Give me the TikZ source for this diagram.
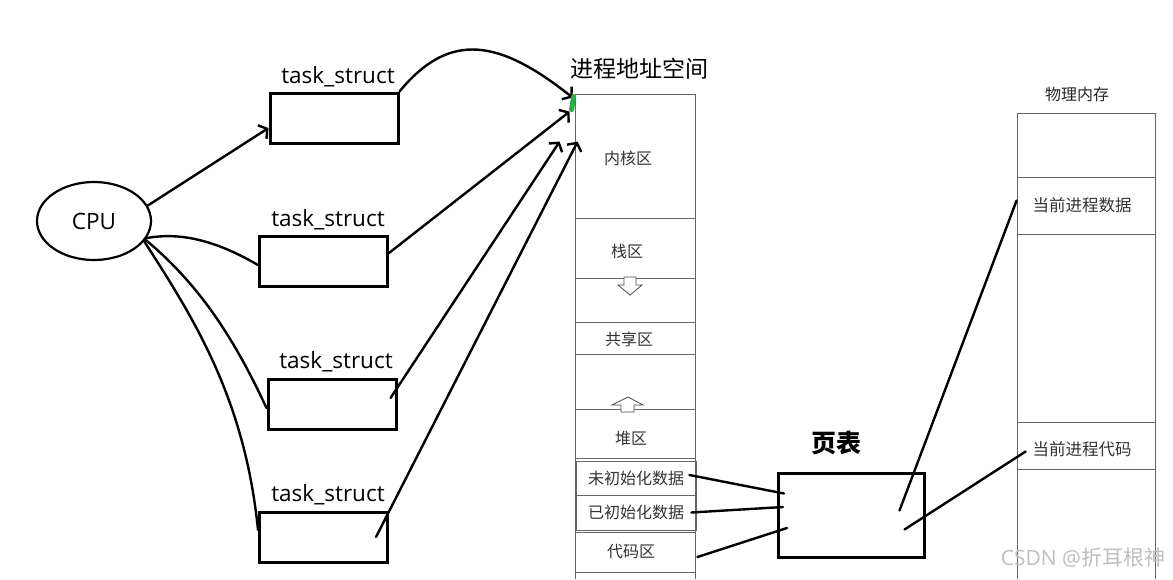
\documentclass[tikz,border=0pt]{standalone}
\usepackage{fontspec}
\setmainfont{Open Sans}
\newfontfamily\cjk{Noto Sans CJK SC}
\usetikzlibrary{arrows.meta,shapes.geometric}
\definecolor{greenmark}{RGB}{40,175,70}
\newcommand\lowertext[2]{\raisebox{-#1}[\height][\depth]{#2}}
\begin{document}
\begin{tikzpicture}[x=1pt,y=-1pt,
  tsbox/.style={draw,line width=3pt,minimum width=128,minimum height=50,inner sep=0},
  tslabel/.style={font=\fontsize{22.5}{22.5}\selectfont,inner sep=0},
  seg/.style={draw=black!60,line width=0.8pt,minimum width=120,inner sep=0,
    font=\cjk\fontsize{16}{16}\selectfont,text=black!80},
  pmseg/.style={seg,minimum width=138,font=\cjk\fontsize{16.5}{16.5}\selectfont},
  hand/.style={line width=2.4pt,line cap=round},
  barb/.style={hand,-{Straight Barb[length=6pt,width=16pt]}},
  hollow/.style={draw=black!70,line width=0.8pt,fill=white}]
\useasboundingbox (0,0) rectangle (1173,579);
\node[draw,ellipse,line width=2.2pt,minimum width=114,minimum height=78,inner sep=0,
  font=\fontsize{22.5}{22.5}\selectfont] (cpu) at (94,221) {CPU};
\node[tsbox] (ts1) at (334,118) {};
\node[tsbox] (ts2) at (323.5,261) {};
\node[tsbox] (ts3) at (332,404) {};
\node[tsbox] (ts4) at (323.5,537) {};
\node[tslabel] (ts1l) at (338,77) {task\_struct};
\node[tslabel] (ts2l) at (328,220) {task\_struct};
\node[tslabel] (ts3l) at (336,362) {task\_struct};
\node[tslabel] (ts4l) at (328,495) {task\_struct};
% process address space
\node[font=\cjk\fontsize{23}{23}\selectfont,inner sep=0] (astitle) at (639,69) {进程地址空间};
\draw[draw=black!60,line width=0.8pt] (575,579) -- (575,94) -- (695,94) -- (695,579);
\node[seg,minimum height=124] (kern) at (635,156) {\hspace*{-14pt}\lowertext{2pt}{内核区}};
\node[seg,minimum height=60] (stack) at (635,248) {\hspace*{-16pt}\lowertext{3pt}{栈区}};
\node[seg,minimum height=32] (shared) at (635,338) {\hspace*{-12pt}\lowertext{1pt}{共享区}};
\node[seg,minimum height=49] (heap) at (635,433.5) {\hspace*{-8pt}\lowertext{5pt}{堆区}};
\node[seg,minimum height=34] (uninit) at (636,478) {未初始化数据};
\node[seg,minimum height=35] (init) at (636,512.5) {已初始化数据};
\node[seg,minimum height=40] (code) at (635,552) {\hspace*{-8pt}代码区};
\draw[hollow] (624,277) -- (636,277) -- (636,285) -- (642,285) -- (630,295) -- (618,285) -- (624,285) -- cycle;
\draw[hollow] (621,412) -- (634,412) -- (634,405) -- (643,405) -- (628,397) -- (612,405) -- (621,405) -- cycle;
% page table
\node[draw,line width=3pt,minimum width=146,minimum height=84] (pt) at (851.5,515.5) {};
\node[font=\cjk\bfseries\fontsize{25}{25}\selectfont,inner sep=0] (ptl) at (836,443) {页表};
% physical memory
\node[font=\cjk\fontsize{16}{16}\selectfont,text=black!85,inner sep=0] (pmtitle) at (1077,94) {物理内存};
\node[pmseg,minimum height=64] (pm0) at (1086,145) {};
\node[pmseg,minimum height=57] (pmdata) at (1086,205.5) {\hspace*{-8pt}当前进程数据};
\node[pmseg,minimum height=188] (pm1) at (1086,328) {};
\node[pmseg,minimum height=47] (pmcode) at (1086,445.5) {\hspace*{-8pt}\lowertext{4pt}{当前进程代码}};
\draw[draw=black!60,line width=0.8pt] (1017,469) -- (1017,579) (1155,469) -- (1155,579);
\node[text=black!25,font=\fontsize{21}{21}\selectfont,inner sep=0] (wm) at (1083,558) {CSDN @{\cjk 折耳根神}};
% cpu to task_struct
\draw[barb] (cpu.16) -- ([yshift=-10pt]ts1.west);
\draw[hand] (cpu.-18) .. controls (180,232) and (215,240) .. ([yshift=-4pt]ts2.west);
\draw[hand] (cpu.-20) .. controls (200,285) and (235,340) .. ([yshift=-4pt]ts3.west);
\draw[hand] (cpu.-22) .. controls (195,320) and (245,400) .. ([yshift=7pt]ts4.west);
% task_struct to address space
\draw[barb] (ts1.north east) .. controls (450,30) and (500,40) .. ([xshift=-2pt,yshift=-4pt]kern.north west);
\draw[barb] ([yshift=8pt]ts2.east) -- ([xshift=-5pt,yshift=-18pt]kern.north west);
\draw[barb] ([xshift=-7pt,yshift=6pt]ts3.east) -- ([xshift=-15pt,yshift=-48pt]kern.north west);
\draw[barb] ([xshift=-13pt]ts4.east) -- ([xshift=3pt,yshift=-48pt]kern.north west);
\draw[greenmark,line width=5pt,line cap=round] ([xshift=-1pt,yshift=-3pt]kern.north west) -- ([xshift=-3pt,yshift=-16pt]kern.north west);
% address space to page table to memory
\draw[hand] ([xshift=-7pt,yshift=3pt]uninit.east) -- ([xshift=7pt,yshift=22pt]pt.west);
\draw[hand] ([xshift=-5pt]init.east) -- ([xshift=6pt,yshift=8.5pt]pt.west);
\draw[hand] ([xshift=2pt,yshift=-5pt]code.east) -- ([xshift=10pt,yshift=-12.5pt]pt.west);
\draw[hand] ([xshift=48pt,yshift=5pt]pt.center) -- ([yshift=5pt]pmdata.west);
\draw[hand] ([xshift=53pt,yshift=-14pt]pt.center) -- ([xshift=9pt,yshift=-6pt]pmcode.west);
\end{tikzpicture}
\end{document}
